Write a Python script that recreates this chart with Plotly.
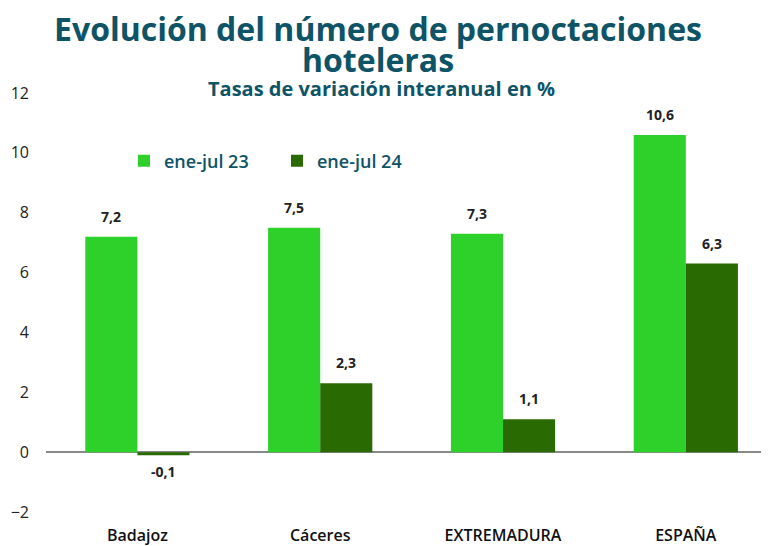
import plotly.graph_objects as go

categories = ["Badajoz", "Cáceres", "EXTREMADURA", "ESPAÑA"]
series_names = ["ene-jul 23", "ene-jul 24"]
values_23 = [7.2, 7.5, 7.3, 10.6]
values_24 = [-0.1, 2.3, 1.1, 6.3]
y_ticks = [-2, 0, 2, 4, 6, 8, 10, 12]

colors = ["#2DD12A", "#2A6A02"]
teal = "#0E5466"
FONT = "Open Sans"

# the page body adds an 8px offset, so the figure is drawn 8px smaller
W, H = 761, 538
L, T, B = 38, 85, 34
PW, PH = W - L, H - T - B

def fmt(v):
    return f"{v:.1f}".replace(".", ",")

fig = go.Figure()
for name, vals, col in zip(series_names, [values_23, values_24], colors):
    fig.add_trace(go.Bar(
        x=categories, y=vals, name=name, marker_color=col,
        marker_line_width=0,
    ))

# value labels anchored to the data values
annots = []
for vals, dx in [(values_23, -26), (values_24, 26)]:
    for c, v in zip(categories, vals):
        annots.append(dict(
            x=c, y=v, xref="x", yref="y", xshift=dx,
            yshift=9 if v >= 0 else -5,
            yanchor="bottom" if v >= 0 else "top",
            text=f"<b>{fmt(v)}</b>", showarrow=False,
            font=dict(family=FONT, size=14, color="#222222"),
        ))

def px_(xpix):
    return (xpix - 8 - L) / PW

def py(ypix):
    return (H - B - (ypix - 8)) / PH

annots += [
    dict(text="<b>Evolución del número de pernoctaciones</b>", xref="paper", yref="paper",
         x=px_(378), y=py(29), xanchor="center", yanchor="middle", showarrow=False,
         font=dict(family=FONT, size=32, color=teal)),
    dict(text="<b>hoteleras</b>", xref="paper", yref="paper",
         x=px_(378), y=py(59), xanchor="center", yanchor="middle", showarrow=False,
         font=dict(family=FONT, size=32, color=teal)),
    dict(text="<b>Tasas de variación interanual en %</b>", xref="paper", yref="paper",
         x=px_(381), y=py(88), xanchor="center", yanchor="middle", showarrow=False,
         font=dict(family=FONT, size=20, color=teal)),
]

fig.update_layout(
    width=W, height=H,
    margin=dict(l=L, r=0, t=T, b=B, autoexpand=False),
    paper_bgcolor="white", plot_bgcolor="white",
    barmode="group", bargap=0.43, bargroupgap=0,
    annotations=annots,
    legend=dict(
        orientation="h", x=px_(124), xanchor="left", y=py(161), yanchor="middle",
        font=dict(family=FONT, size=18, color=teal, weight=600),
        bgcolor="rgba(0,0,0,0)", entrywidth=108,
    ),
    showlegend=True,
)
fig.update_xaxes(
    range=[-0.5, 3.455], showgrid=False, showline=False, ticks="", automargin=False,
    tickfont=dict(family=FONT, size=16, color="#111111", weight=600),
    ticklabelstandoff=12,
)
fig.update_yaxes(
    range=[-2, 12], tickvals=y_ticks, showgrid=False, showline=False, automargin=False,
    zeroline=True, zerolinecolor="#888888", zerolinewidth=1.5,
    tickfont=dict(family=FONT, size=16, color="#222222"),
    ticklabelstandoff=16,
)

fig.write_html("out.html")
